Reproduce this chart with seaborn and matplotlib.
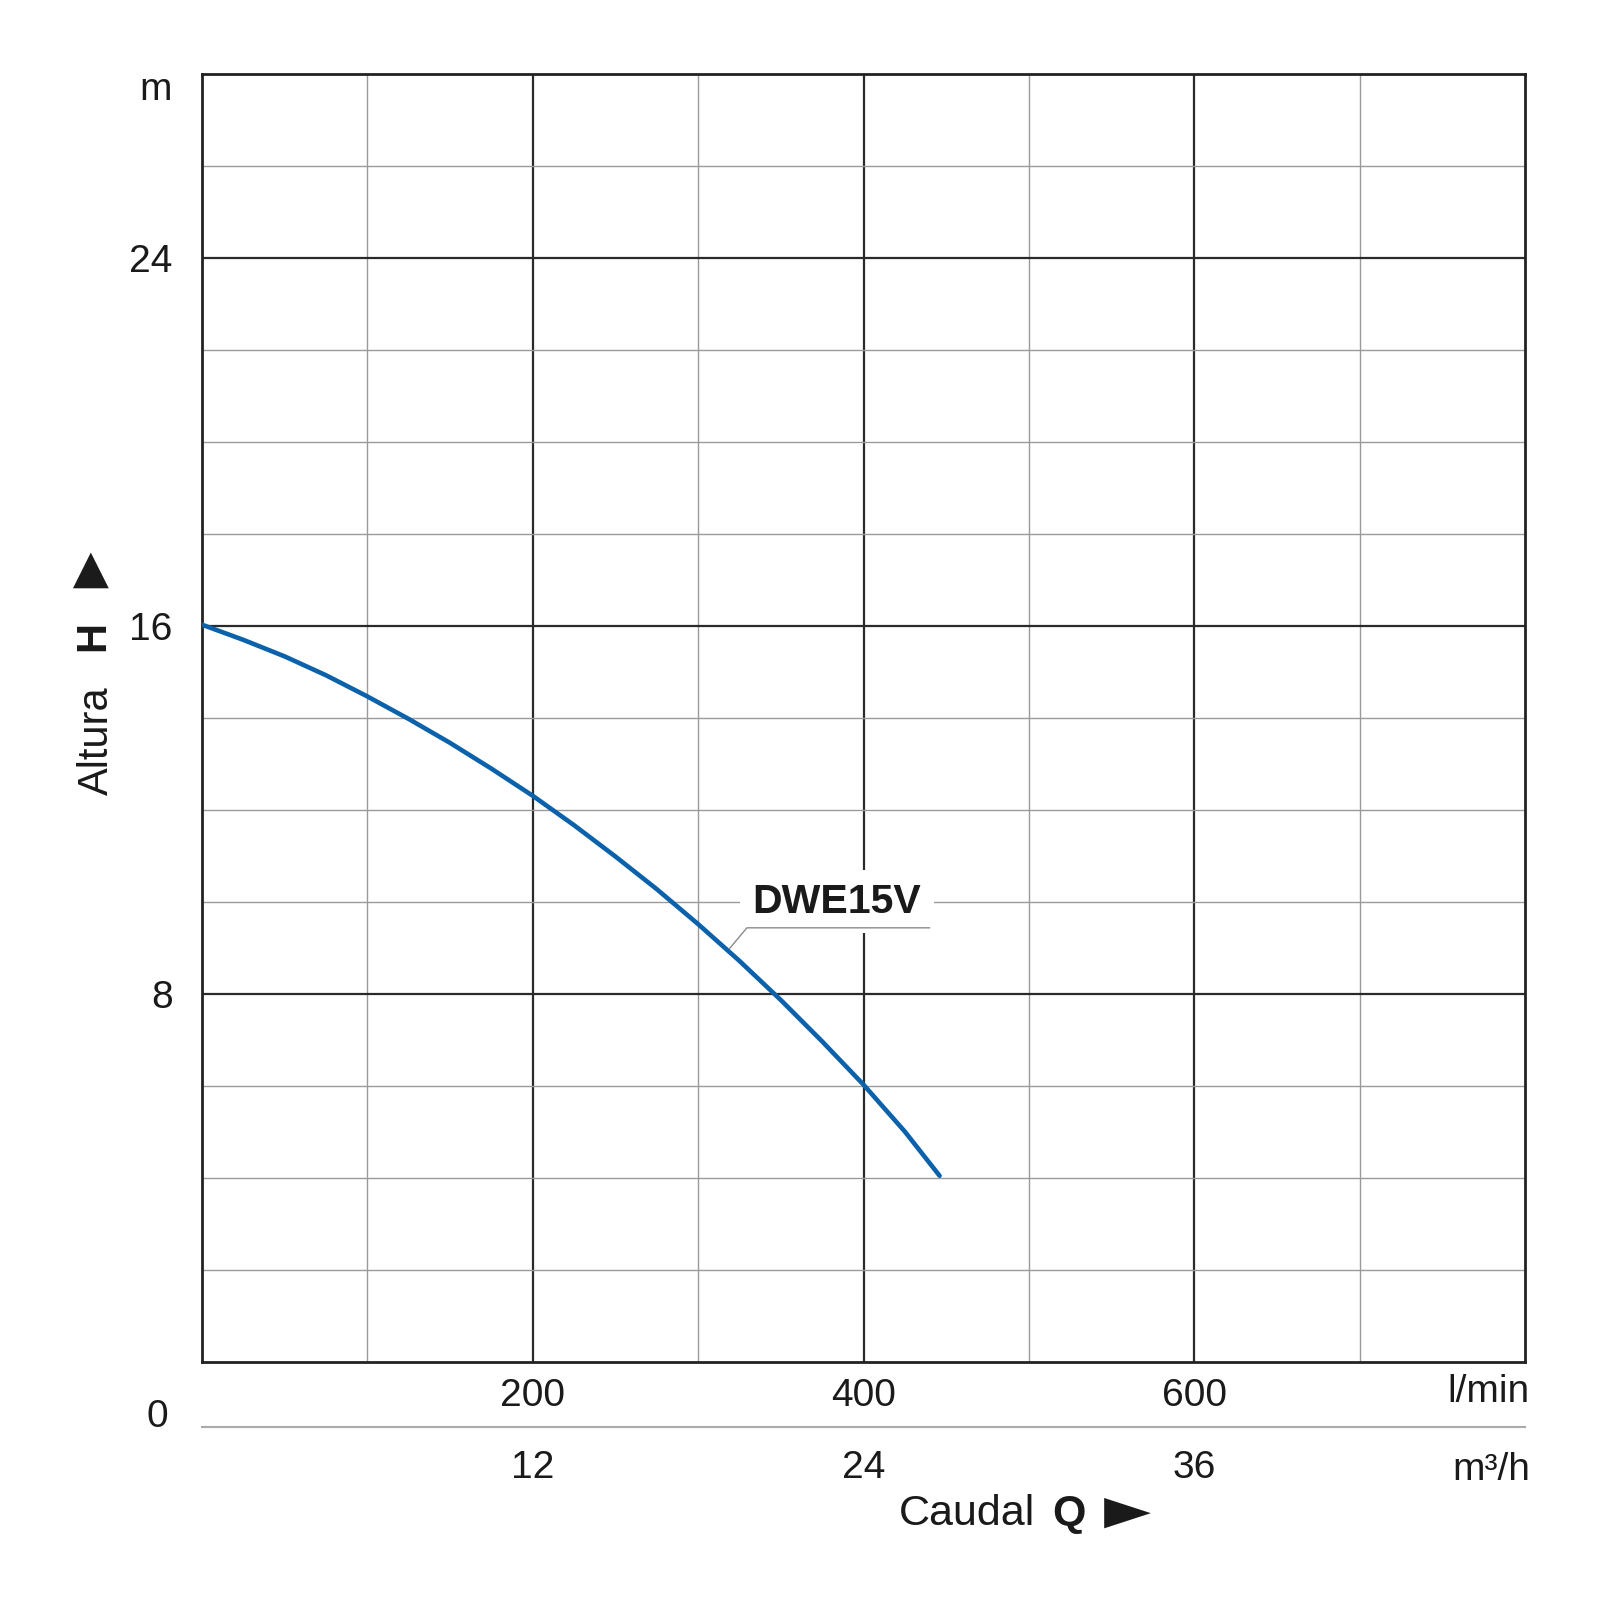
import matplotlib
matplotlib.use("Agg")
import matplotlib.pyplot as plt
import seaborn as sns

sns.set_theme(style="white")
plt.rcParams['font.family'] = ['Liberation Sans', 'DejaVu Sans']

# pump curve DWE15V, flow in l/min, head in m
flow_lmin = [0, 25, 50, 75, 100, 125, 150, 175, 200, 225, 250, 275, 300, 325, 350, 375, 400, 425, 446]
head_m = [16.02, 15.69, 15.33, 14.92, 14.46, 13.97, 13.45, 12.89, 12.30, 11.66, 10.98, 10.27,
          9.51, 8.71, 7.86, 6.96, 6.02, 5.00, 4.04]

x_ticks = [200, 400, 600]
x_minor = [100, 300, 500, 700]
y_ticks = [8, 16, 24]
y_minor = [2, 4, 6, 10, 12, 14, 18, 20, 22, 26]
m3h_ticks = [12, 24, 36]

curve_name = "DWE15V"
label_pos = (384, 10.0)
leader_x = [319, 329.5, 440]
leader_y = [8.98, 9.43, 9.43]

blue = "#0b62ab"
ink = "#1a1a1a"

fig = plt.figure(figsize=(16, 16), dpi=100)
ax = fig.add_axes([0.12625, 0.149, 0.8269, 0.805])

sns.lineplot(x=flow_lmin, y=head_m, ax=ax, color=blue, lw=3.3, zorder=4)

ax.set_xlim(0, 800)
ax.set_ylim(0, 28)
ax.set_xticks(x_ticks)
ax.set_xticks(x_minor, minor=True)
ax.set_yticks(y_ticks)
ax.set_yticks(y_minor, minor=True)
ax.tick_params(axis="both", which="both", length=0, labelsize=28, colors=ink)
ax.tick_params(axis="y", pad=21)
ax.tick_params(axis="x", pad=12)
ax.grid(which="major", color="#2a2a2a", lw=1.6)
ax.grid(which="minor", color="#9a9a9a", lw=1.0)
for s in ax.spines.values():
    s.set_visible(True)
    s.set_color("#222222")
    s.set_linewidth(2)

# second flow scale in m3/h
sec = ax.secondary_xaxis(-0.0505, functions=(lambda q: q * 0.06, lambda m: m / 0.06))
sec.set_xticks(m3h_ticks)
sec.tick_params(length=0, pad=17, labelsize=28, colors=ink)
sec.spines["bottom"].set_color("#aaaaaa")
sec.spines["bottom"].set_linewidth(1.5)

# curve label
ax.text(label_pos[0], label_pos[1], curve_name, fontsize=29.5, fontweight="bold", color=ink,
        ha="center", va="center", zorder=5,
        bbox=dict(boxstyle="square,pad=0.3", fc="white", ec="none"))
ax.plot(leader_x, leader_y, color="#8a8a8a", lw=1.0, zorder=6)

def ft(px, py, s, **kw):
    fig.text(px / 1600, 1 - py / 1600, s, color=ink, **kw)

ft(172, 90, "m", fontsize=28, ha="right", va="center")
ft(157, 1417, "0", fontsize=28, ha="center", va="center")
ft(1530, 1392, "l/min", fontsize=28, ha="right", va="center")
ft(1530, 1470, "m³/h", fontsize=28, ha="right", va="center")

# axis titles
ft(899, 1514, "Caudal", fontsize=31, ha="left", va="center")
ft(1069, 1514, "Q", fontsize=31, fontweight="bold", ha="center", va="center")
ft(1127, 1512, "►", fontsize=44, family="DejaVu Sans", ha="center", va="center")

ft(97, 741, "Altura", fontsize=30, rotation=90, ha="center", va="center")
ft(93, 636, "H", fontsize=30, fontweight="bold", rotation=90, ha="center", va="center")
ft(81, 558, "►", fontsize=43, rotation=90, ha="center", va="center")

fig.savefig("out.png", dpi=100)
